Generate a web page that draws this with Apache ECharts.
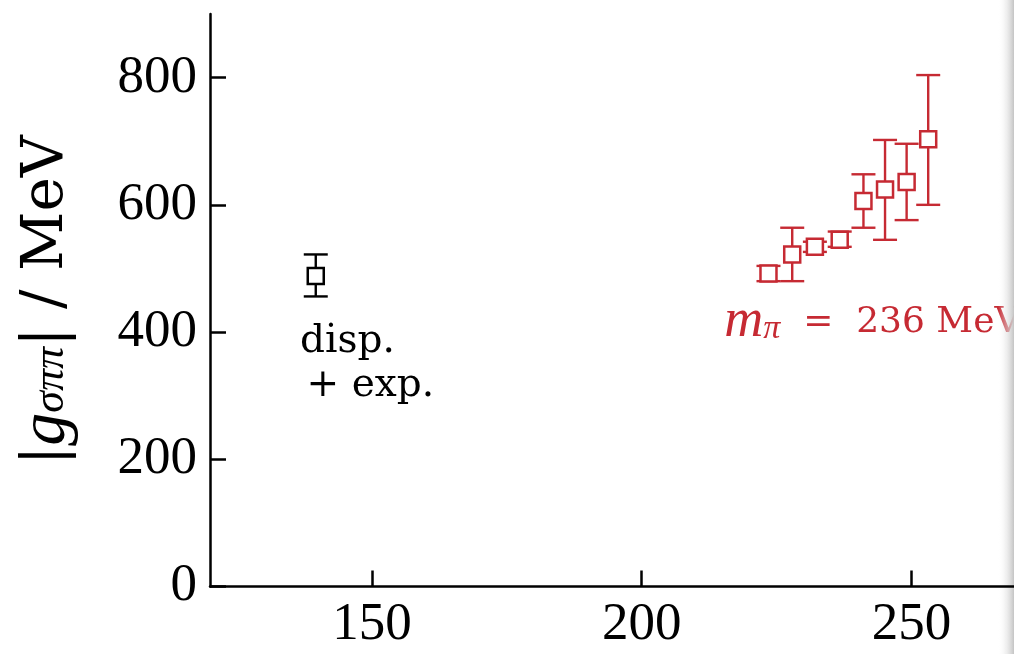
<!DOCTYPE html>
<html>
<head>
<meta charset="utf-8">
<script src="https://cdn.jsdelivr.net/npm/echarts@6/dist/echarts.min.js"></script>
<style>
  html, body { margin: 0; background: #fff; }
  #chart { width: 1014px; height: 654px; }
</style>
</head>
<body>
<div id="chart"></div>
<script>
// tick values
const xTicks = [150, 200, 250];
const yTicks = [0, 200, 400, 600, 800];

// physical point (dispersive + experiment)
const physX = [139.6];
const physY = [488];
const physLo = [456];
const physHi = [522];

// lattice, m_pi = 236 MeV
const latX = [223.5, 227.9, 232.1, 236.7, 241.1, 245.1, 249.1, 253.1];
const latY = [492, 522, 534, 545, 606, 624, 636, 703];
const latLo = [480, 480, 526, 534, 564, 545, 576, 600];
const latHi = [504, 564, 542, 558, 648, 702, 696, 804];

const RED = "#c62a33";
const TIMES = "'Liberation Serif', serif";
const TEXFONT = "'DejaVu Serif', serif";

const errData = (xs, lo, hi) => xs.map((x, i) => [x, lo[i], hi[i]]);
const ptData = (xs, ys) => xs.map((x, i) => [x, ys[i]]);

function errorBars(color) {
  return function (params, api) {
    const x = api.value(0);
    const lo = api.coord([x, api.value(1)]);
    const hi = api.coord([x, api.value(2)]);
    const w = 12;
    const style = { stroke: color, lineWidth: 2.4 };
    return {
      type: "group",
      children: [
        { type: "line", shape: { x1: lo[0], y1: lo[1], x2: hi[0], y2: hi[1] }, style },
        { type: "line", shape: { x1: lo[0] - w, y1: lo[1], x2: lo[0] + w, y2: lo[1] }, style },
        { type: "line", shape: { x1: hi[0] - w, y1: hi[1], x2: hi[0] + w, y2: hi[1] }, style },
      ],
    };
  };
}

const chart = echarts.init(document.getElementById("chart"));

chart.setOption({
  animation: false,
  grid: { left: 210, right: 0, top: 14, bottom: 67.5 },
  xAxis: {
    type: "value",
    min: 120,
    max: 269,
    axisLine: { lineStyle: { color: "#000", width: 2.5 } },
    axisTick: { inside: true, length: 16, customValues: xTicks, lineStyle: { color: "#000", width: 2.5 } },
    axisLabel: { customValues: xTicks, color: "#000", fontFamily: TIMES, fontSize: 53, margin: 12 },
    splitLine: { show: false },
  },
  yAxis: {
    type: "value",
    min: 0,
    max: 900,
    axisLine: { show: true, lineStyle: { color: "#000", width: 2.5 } },
    axisTick: { show: true, inside: true, length: 16, customValues: yTicks, lineStyle: { color: "#000", width: 2.5 } },
    axisLabel: { customValues: yTicks, color: "#000", fontFamily: TIMES, fontSize: 53, margin: 13 },
    splitLine: { show: false },
    name: "{b||}{g|g}{s|σππ}{b||}{b| / MeV}",
    nameLocation: "middle",
    nameGap: 130,
    nameTextStyle: {
      color: "#000",
      fontFamily: TEXFONT,
      fontSize: 58,
      rich: {
        b: { fontFamily: TEXFONT, fontSize: 58, color: "#000" },
        g: { fontFamily: TIMES, fontSize: 66, fontStyle: "italic", color: "#000" },
        s: { fontFamily: TIMES, fontSize: 44, fontStyle: "italic", color: "#000", padding: [8, 0, 0, 0] },
      },
    },
  },
  series: [
    {
      type: "custom",
      renderItem: errorBars("#000"),
      data: errData(physX, physLo, physHi),
      z: 1,
      silent: true,
    },
    {
      type: "scatter",
      symbol: "rect",
      symbolSize: 16,
      itemStyle: { color: "#fff", borderColor: "#000", borderWidth: 2.5, opacity: 1 },
      data: ptData(physX, physY),
      z: 2,
    },
    {
      type: "custom",
      renderItem: errorBars(RED),
      data: errData(latX, latLo, latHi),
      z: 1,
      silent: true,
    },
    {
      type: "scatter",
      symbol: "rect",
      symbolSize: 16,
      itemStyle: { color: "#fff", borderColor: RED, borderWidth: 2.5, opacity: 1 },
      data: ptData(latX, latY),
      z: 2,
    },
  ],
});

// annotations placed in data coordinates
const px = (x, y) => chart.convertToPixel({ gridIndex: 0 }, [x, y]);
const p1 = px(136.7, 385);
const p2 = px(137.9, 316);
const p3 = px(215.3, 415.5);

chart.setOption({
  graphic: [
    {
      type: "text",
      x: p1[0], y: p1[1],
      style: { text: "disp.", fill: "#000", fontFamily: TEXFONT, fontSize: 39, verticalAlign: "middle" },
    },
    {
      type: "text",
      x: p2[0], y: p2[1],
      style: { text: "+ exp.", fill: "#000", fontFamily: TEXFONT, fontSize: 39, verticalAlign: "middle" },
    },
    {
      type: "text",
      x: p3[0], y: p3[1],
      style: {
        text: "{m|m}{s|π}{t|  =  236 MeV}",
        verticalAlign: "middle",
        rich: {
          m: { fill: RED, fontFamily: TIMES, fontSize: 54, fontStyle: "italic" },
          s: { fill: RED, fontFamily: TIMES, fontSize: 34, fontStyle: "italic", padding: [14, 0, 0, 0] },
          t: { fill: RED, fontFamily: TEXFONT, fontSize: 36 },
        },
      },
    },
    {
      type: "rect",
      right: 0, top: 0,
      shape: { width: 16, height: 654 },
      style: {
        fill: new echarts.graphic.LinearGradient(0, 0, 1, 0, [
          { offset: 0, color: "rgba(255,255,255,0)" },
          { offset: 1, color: "#c4c4c4" },
        ]),
      },
      silent: true,
    },
  ],
});
</script>
</body>
</html>
